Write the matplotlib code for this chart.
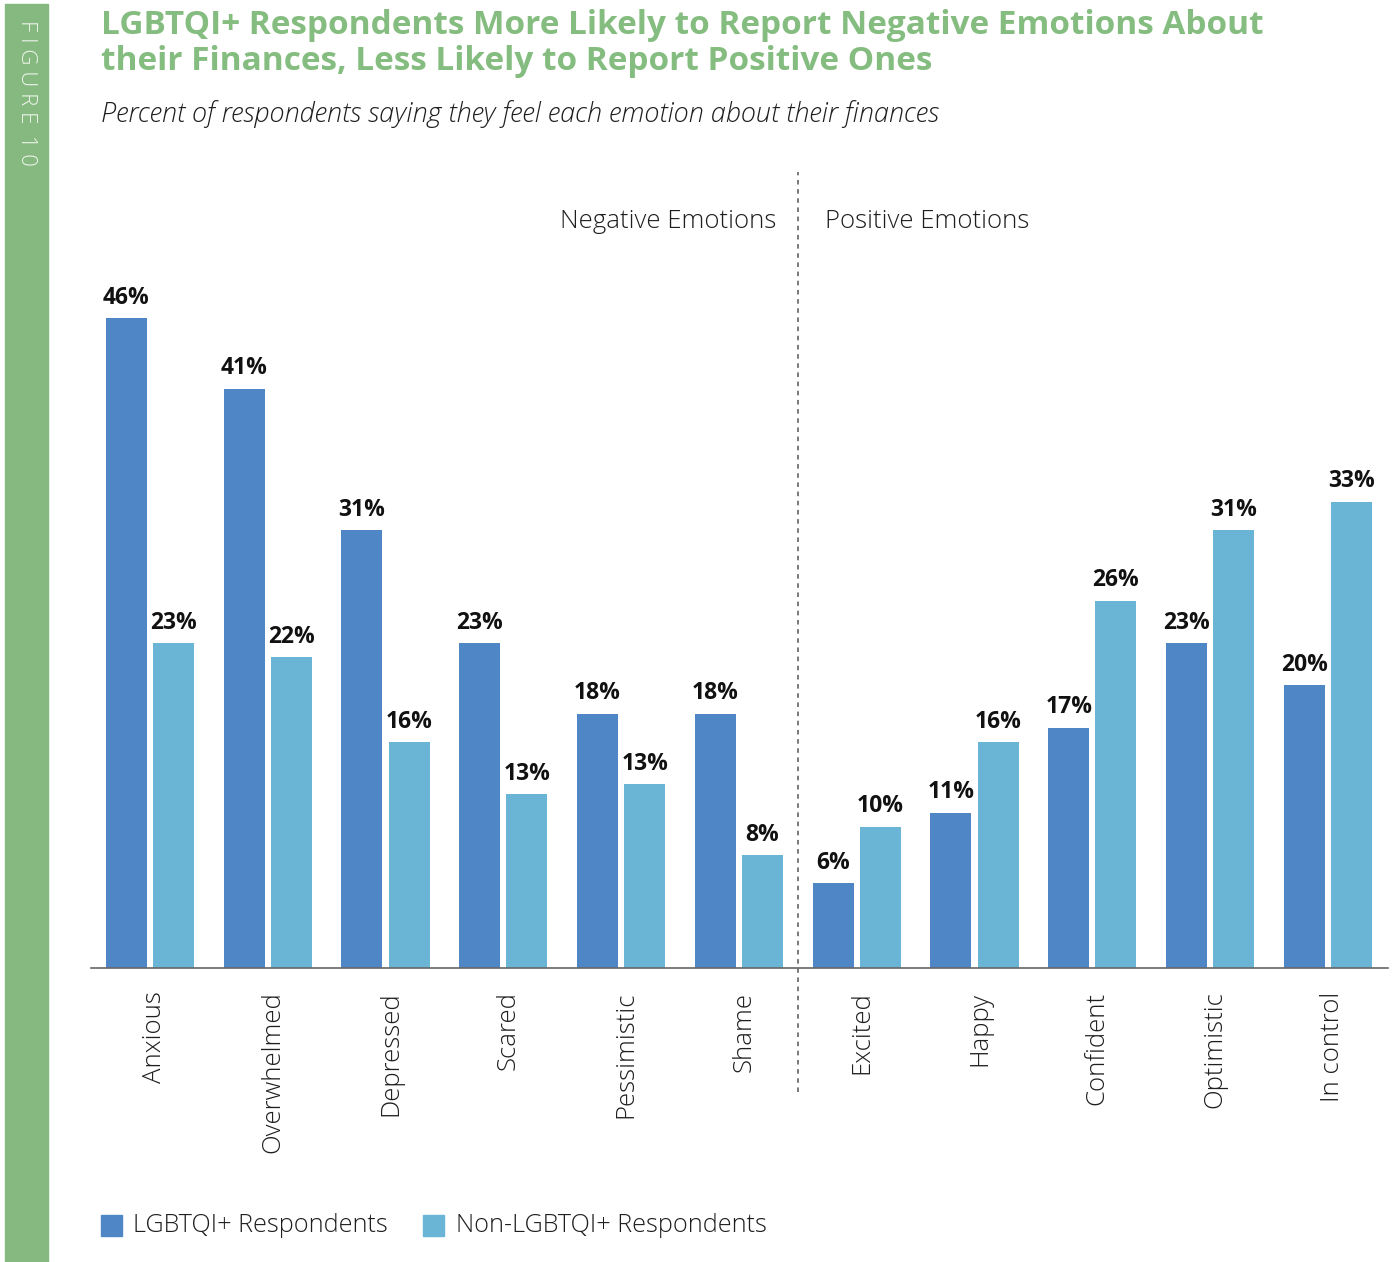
import numpy as np
import matplotlib
matplotlib.use('Agg')
import matplotlib.pyplot as plt
from matplotlib.patches import Rectangle
from matplotlib import transforms as mtransforms

plt.rcParams['font.family'] = ['Open Sans', 'DejaVu Sans']

# data
emotions = ['Anxious', 'Overwhelmed', 'Depressed', 'Scared', 'Pessimistic', 'Shame',
            'Excited', 'Happy', 'Confident', 'Optimistic', 'In control']
lgbtq = [46, 41, 31, 23, 18, 18, 6, 11, 17, 23, 20]
non_lgbtq = [23, 22, 16, 12.3, 13, 8, 10, 16, 26, 31, 33]
lgbtq_labels = ['46%', '41%', '31%', '23%', '18%', '18%', '6%', '11%', '17%', '23%', '20%']
non_labels = ['23%', '22%', '16%', '13%', '13%', '8%', '10%', '16%', '26%', '31%', '33%']
series_names = ['LGBTQI+ Respondents', 'Non-LGBTQI+ Respondents']
title_lines = ['LGBTQI+ Respondents More Likely to Report Negative Emotions About',
               'their Finances, Less Likely to Report Positive Ones']

dark = '#4f87c6'
light = '#6ab4d6'
green = '#86b97f'
title_green = '#84bd7f'
txt = '#1e1e1e'

W, H = 1395, 1262
fig = plt.figure(figsize=(W / 100, H / 100), dpi=100)

# axes placed in pixel terms
left, right, top, base = 91, 1388, 172, 968
ax = fig.add_axes([left / W, 1 - base / H, (right - left) / W, (base - top) / H])

x = np.arange(len(emotions))
w = 0.348
ax.bar(x - 0.2, lgbtq, w, color=dark, zorder=2)
ax.bar(x + 0.2, non_lgbtq, w, color=light, zorder=2)

for xi, v, s in zip(x, lgbtq, lgbtq_labels):
    ax.annotate(s, (xi - 0.2, v), xytext=(0, 6), textcoords='offset points',
                ha='center', va='bottom', fontsize=16.5, fontweight='bold', color='#111111')
for xi, v, s in zip(x, non_lgbtq, non_labels):
    ax.annotate(s, (xi + 0.2, v), xytext=(0, 6), textcoords='offset points',
                ha='center', va='bottom', fontsize=16.5, fontweight='bold', color='#111111')

ax.set_xlim(-0.5, 10.51)
ax.set_ylim(0, (base - top) / 14.13)
for sp in ['top', 'right', 'left']:
    ax.spines[sp].set_visible(False)
ax.spines['bottom'].set_color('#666666')
ax.spines['bottom'].set_linewidth(1.2)
ax.set_yticks([])
ax.set_xticks(x)
ax.set_xticklabels(emotions, rotation=90, fontsize=18.5, color=txt, fontweight='light')
ax.tick_params(axis='x', length=0, pad=17)
# nudge tick labels a few pixels right like the reference
shift = mtransforms.ScaledTranslation(5 / 100, 0, fig.dpi_scale_trans)
for lab in ax.get_xticklabels():
    lab.set_transform(lab.get_transform() + shift)

# divider between negative and positive
ax.axvline(5.5, ymin=-0.156, ymax=1, color='#555555', lw=1.1, ls=(0, (3, 3)), clip_on=False)
ax.text(5.32, 1 - 49 / (base - top), 'Negative Emotions', transform=ax.get_xaxis_transform(),
        ha='right', va='center', fontsize=18.5, color=txt, fontweight='light')
ax.text(5.73, 1 - 49 / (base - top), 'Positive Emotions', transform=ax.get_xaxis_transform(),
        ha='left', va='center', fontsize=18.5, color=txt, fontweight='light')

# green side strip
fig.patches.append(Rectangle((5 / W, 0), 43 / W, 1 - 4 / H, transform=fig.transFigure,
                             color=green, zorder=0))
fig.text(26 / W, 1 - 20 / H, 'F I G U R E  1 0', rotation=-90, ha='center', va='top',
         fontsize=16, color='#eef5ec', fontweight='light')

fig.text(101 / W, 1 - 25 / H, title_lines[0], ha='left', va='center',
         fontsize=24, fontweight='bold', color=title_green)
fig.text(101 / W, 1 - 62 / H, title_lines[1], ha='left', va='center',
         fontsize=24, fontweight='bold', color=title_green)
fig.text(101 / W, 1 - 114 / H, 'Percent of respondents saying they feel each emotion about their finances',
         ha='left', va='center', fontsize=19.5, style='italic', color=txt, fontweight='light')

# legend
for lx, tx, col, name in [(101, 133, dark, series_names[0]), (423, 456, light, series_names[1])]:
    fig.patches.append(Rectangle((lx / W, 1 - 1236 / H), 21 / W, 21 / H,
                                 transform=fig.transFigure, color=col))
    fig.text(tx / W, 1 - 1225 / H, name, ha='left', va='center', fontsize=18.2, color=txt,
             fontweight='light')

fig.savefig('out.png', dpi=100)
